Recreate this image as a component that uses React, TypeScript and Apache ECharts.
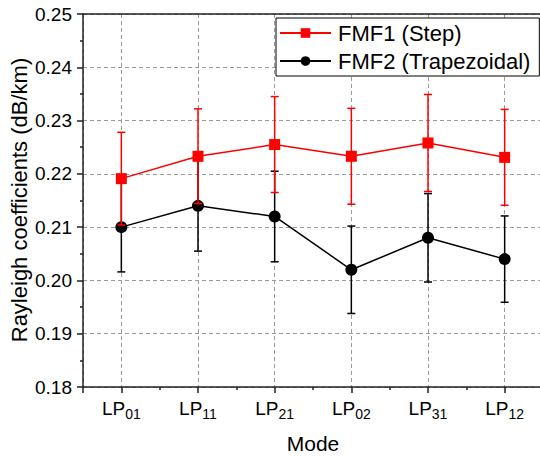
import React, { useEffect, useRef } from 'react';
import * as echarts from 'echarts';

const modeSubs = ['01', '11', '21', '02', '31', '12'];
const fmf1Values = [0.2191, 0.2233, 0.2255, 0.2233, 0.2258, 0.2231];
const fmf1Errors = [0.0087, 0.0089, 0.009, 0.009, 0.0091, 0.009];
const fmf2Values = [0.21, 0.214, 0.212, 0.202, 0.208, 0.204];
const fmf2Errors = [0.0084, 0.0085, 0.0085, 0.0082, 0.0083, 0.0081];
const seriesNames = ['FMF1 (Step)', 'FMF2 (Trapezoidal)'];

const FONT = "'Liberation Sans', Arial, sans-serif";

function errorSeries(name: string, values: number[], errs: number[], color: string, z: number) {
  return {
    type: 'custom',
    name: name + ' err',
    z,
    encode: { x: 0, y: 1 },
    data: values.map((v, i) => [i + 1, v, errs[i]]),
    renderItem: (params: any, api: any) => {
      const x = api.value(0);
      const y = api.value(1);
      const e = api.value(2);
      const top = api.coord([x, y + e]);
      const bot = api.coord([x, y - e]);
      const hw = 4;
      const st = { stroke: color, lineWidth: 1.5 };
      return {
        type: 'group',
        children: [
          { type: 'line', shape: { x1: top[0], y1: top[1], x2: bot[0], y2: bot[1] }, style: st },
          { type: 'line', shape: { x1: top[0] - hw, y1: top[1], x2: top[0] + hw, y2: top[1] }, style: st },
          { type: 'line', shape: { x1: bot[0] - hw, y1: bot[1], x2: bot[0] + hw, y2: bot[1] }, style: st },
        ],
      };
    },
  };
}

export default function App() {
  const ref = useRef<HTMLDivElement>(null);
  useEffect(() => {
    if (!ref.current) return;
    const chart = echarts.init(ref.current, null, { renderer: 'svg' });
    const dash = { color: '#9a9a9a', type: [4, 3], width: 1 };
    const axisLine = { show: true, lineStyle: { color: '#222', width: 1.5 } };
    chart.setOption({
      animation: false,
      backgroundColor: '#fff',
      grid: { left: 83, top: 14, width: 460, height: 373, outerBoundsMode: 'none', containLabel: false },
      legend: {
        orient: 'vertical',
        left: 276,
        top: 18,
        data: seriesNames,
        backgroundColor: '#fff',
        borderColor: '#000',
        borderWidth: 1,
        borderRadius: 0,
        padding: [3, 9, 3, 3],
        itemGap: 4,
        itemWidth: 51,
        itemHeight: 12,
        textStyle: { fontFamily: FONT, fontSize: 22, color: '#000', lineHeight: 24, padding: [0, 0, 0, 2] },
      },
      xAxis: [
        {
          type: 'value',
          min: 0.5,
          max: 6.5,
          splitNumber: 6,
          position: 'bottom',
          axisLine,
          axisTick: { show: true, inside: false, length: 6, lineStyle: { color: '#222', width: 1.5 } },
          minorTick: { show: true, splitNumber: 2, length: 3, lineStyle: { color: '#222', width: 1.5 } },
          splitLine: { show: true, lineStyle: dash },
          axisLabel: {
            margin: 12,
            showMinLabel: true,
            showMaxLabel: true,
            formatter: (v: number) => {
              const r = Math.round(v);
              if (Math.abs(v - r) > 1e-6 || r < 1 || r > modeSubs.length) return '';
              return `{a|LP}{b|${modeSubs[r - 1]}}`;
            },
            rich: {
              a: { fontFamily: FONT, fontSize: 19, color: '#000', lineHeight: 20, verticalAlign: 'top' },
              b: { fontFamily: FONT, fontSize: 14, color: '#000', padding: [8, 0, 0, 0], verticalAlign: 'bottom' },
            },
          },
        },
        {
          type: 'value',
          min: 0.5,
          max: 6.5,
          position: 'top',
          axisLine,
          axisTick: { show: false },
          axisLabel: { show: false },
          splitLine: { show: false },
        },
      ],
      yAxis: {
        type: 'value',
        min: 0.18,
        max: 0.25,
        interval: 0.01,
        axisLine,
        axisTick: { show: true, inside: false, length: 6, lineStyle: { color: '#222', width: 1.5 } },
        minorTick: { show: true, splitNumber: 2, length: 3, lineStyle: { color: '#222', width: 1.5 } },
        splitLine: { show: true, lineStyle: dash },
        axisLabel: {
          margin: 11,
          fontFamily: FONT,
          fontSize: 19,
          color: '#000',
          formatter: (v: number) => v.toFixed(2),
        },
      },
      graphic: [
        {
          type: 'text',
          x: 19,
          y: 200,
          rotation: Math.PI / 2,
          style: {
            text: 'Rayleigh coefficients (dB/km)',
            fontFamily: FONT,
            fontSize: 22,
            fill: '#000',
            align: 'center',
            verticalAlign: 'middle',
          },
        },
        {
          type: 'text',
          x: 313,
          y: 443,
          style: {
            text: 'Mode',
            fontFamily: FONT,
            fontSize: 21,
            fill: '#000',
            align: 'center',
            verticalAlign: 'middle',
          },
        },
      ],
      series: [
        {
          type: 'line',
          name: seriesNames[1],
          z: 2,
          data: fmf2Values.map((v, i) => [i + 1, v]),
          symbol: 'circle',
          symbolSize: 12,
          itemStyle: { color: '#000' },
          lineStyle: { color: '#000', width: 1.5 },
        },
        errorSeries(seriesNames[1], fmf2Values, fmf2Errors, '#000', 3),
        {
          type: 'line',
          name: seriesNames[0],
          z: 4,
          data: fmf1Values.map((v, i) => [i + 1, v]),
          symbol: 'rect',
          symbolSize: 11,
          itemStyle: { color: '#ff0000' },
          lineStyle: { color: '#ff0000', width: 1.5 },
        },
        errorSeries(seriesNames[0], fmf1Values, fmf1Errors, '#ff0000', 5),
      ],
    });
    return () => chart.dispose();
  }, []);
  return <div ref={ref} style={{ position: 'fixed', left: 0, top: 0, width: 540, height: 457 }} />;
}
